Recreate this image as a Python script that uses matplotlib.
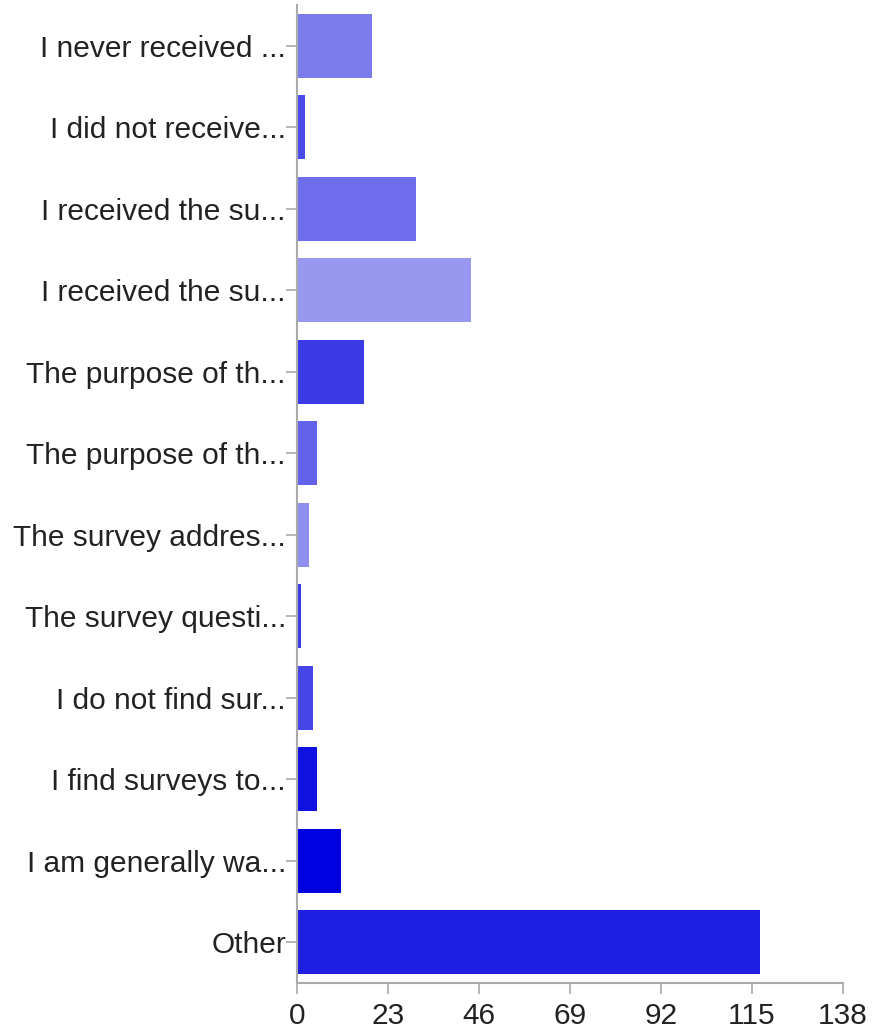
import matplotlib
matplotlib.use("Agg")
import matplotlib.pyplot as plt

categories = [
    "I never received ...",
    "I did not receive...",
    "I received the su...",
    "I received the su...",
    "The purpose of th...",
    "The purpose of th...",
    "The survey addres...",
    "The survey questi...",
    "I do not find sur...",
    "I find surveys to...",
    "I am generally wa...",
    "Other",
]
values = [19, 2, 30, 44, 17, 5, 3, 1, 4, 5, 11, 117]
colors = ["#7b7bec", "#4a4aeb", "#6e6eec", "#9898f0", "#3a3ae6", "#6262ea",
          "#8f8ff0", "#3a3ae6", "#4646e6", "#1010e0", "#0000e0", "#1e1ee0"]
xticks = [0, 23, 46, 69, 92, 115, 138]

plt.rcParams['font.family'] = ['Liberation Sans', 'DejaVu Sans']

fig = plt.figure(figsize=(8.77, 10.30), dpi=100)
ax = fig.add_axes([297/877, 1 - 983/1030, (843-297)/877, (983-5)/1030])

ypos = list(range(len(categories)))
ax.barh(ypos, values, height=0.79, color=colors, edgecolor='none')
ax.set_ylim(len(categories) - 0.5, -0.5)
ax.set_xlim(0, 138)
ax.set_yticks(ypos)
ax.set_yticklabels(categories, fontsize=21.5, color='#222222')
ax.set_xticks(xticks)
ax.set_xticklabels([str(t) for t in xticks], fontsize=21.5, color='#222222')

for s in ['top', 'right']:
    ax.spines[s].set_visible(False)
for s in ['left', 'bottom']:
    ax.spines[s].set_color('#aaaaaa')
    ax.spines[s].set_linewidth(1.5)
ax.tick_params(axis='y', length=8, width=1.2, color='#aaaaaa', pad=0)
ax.tick_params(axis='x', length=8, width=1.2, color='#aaaaaa', pad=6)

fig.savefig("out.png", dpi=100)
